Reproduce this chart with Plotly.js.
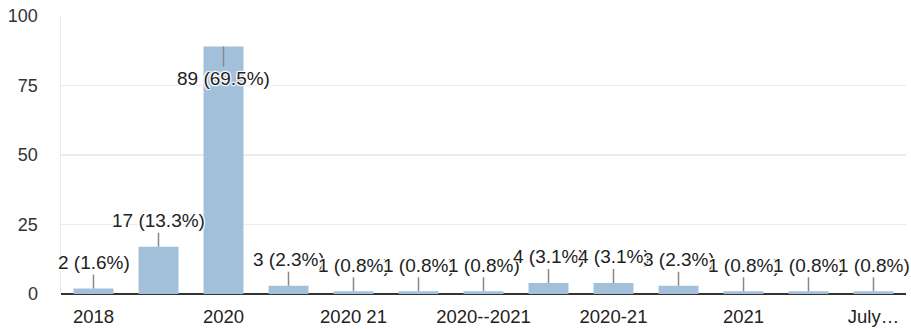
<!DOCTYPE html>
<html><head><meta charset="utf-8">
<script src="https://cdn.plot.ly/plotly-3.0.1.min.js"></script>
<style>html,body{margin:0;padding:0;background:#fff;}</style>
</head><body>
<div id="chart" style="width:911px;height:329px;"></div>
<script>
const categories = ["2018","2019","2020","2020 - 2021","2020 21","2020 & 2021","2020--2021","2020/2021","2020-21","2020/21","2021","2022","July 2020"];
const counts = [2,17,89,3,1,1,1,4,4,3,1,1,1];
const tickCategories = ["2018","2020","2020 21","2020--2021","2020-21","2021","July 2020"];
const tickLabels = ["2018","2020","2020 21","2020--2021","2020-21","2021","July…"];

const total = counts.reduce((a,b)=>a+b,0);
const halo = "1px 1px 1px #fff, -1px -1px 1px #fff, 1px -1px 1px #fff, -1px 1px 1px #fff, 0 0 2px #fff";
const annotations = categories.map((c,i)=>{
  const v = counts[i];
  const inside = v > 50;
  return {
    x: i, y: v, xref:'x', yref:'y',
    text: v + " (" + (v/total*100).toFixed(1) + "%)",
    showarrow: true, arrowhead: 0, arrowwidth: 1.5, arrowcolor: '#888',
    ax: 0, ay: inside ? 32 : -26, standoff: 0,
    font: {family: 'Liberation Sans, Arial, sans-serif', size: 19, color: '#222', shadow: halo}
  };
});
const tickIdx = tickCategories.map(c => categories.indexOf(c));

const data = [{
  type:'bar', x: categories, y: counts,
  marker:{color:'#A3C0DB'}, hoverinfo:'none'
}];
const layout = {
  width:911, height:329,
  margin:{l:61, r:5, t:16, b:35},
  paper_bgcolor:'#fff', plot_bgcolor:'#fff',
  bargap:0.385,
  showlegend:false,
  font:{family:'Liberation Sans, Arial, sans-serif', size:18, color:'#333'},
  xaxis:{
    type:'category', range:[-0.5, categories.length-0.5],
    tickmode:'array', tickvals: tickIdx, ticktext: tickLabels,
    showgrid:false, zeroline:false, showline:false, ticks:'', ticklabelstandoff: 9,
    tickfont:{size:18.5, color:'#222'}
  },
  yaxis:{
    range:[0,100], tickvals:[0,25,50,75,100], showgrid:true, gridcolor:'#ebebeb', gridwidth:1.5,
    zeroline:true, zerolinecolor:'#333', zerolinewidth:2.5,
    showline:true, linecolor:'#ebebeb', linewidth:1.5, ticks:'',
    ticklabelstandoff: 18, tickfont:{size:18, color:'#333'}
  },
  annotations: annotations
};
Plotly.newPlot('chart', data, layout, {displayModeBar:false, staticPlot:true});
</script>
</body></html>
